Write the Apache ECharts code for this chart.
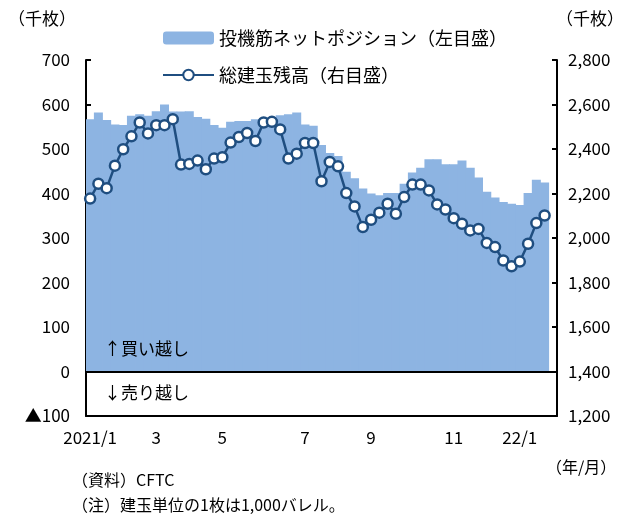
<!DOCTYPE html>
<html>
<head>
<meta charset="utf-8">
<script src="https://cdn.jsdelivr.net/npm/echarts@6/dist/echarts.min.js"></script>
<style>
  html, body { margin: 0; padding: 0; background: #fff; }
  #container { width: 625px; height: 520px; }
</style>
</head>
<body>
<div id="container"></div>
<script>
// weekly data, 2021/1 - 2022/2 (one empty slot at the end like the original)
var weeks = [];
for (var i = 0; i < 57; i++) weeks.push('w' + i);

// month tick labels: week index -> text
var tickLabels = { 0: '2021/1', 8: '3', 16: '5', 26: '7', 34: '9', 44: '11', 52: '22/1' };

// 投機筋ネットポジション (left axis, 千枚)
var netPosition = [
  567, 582, 565, 555, 554, 575, 578, 575, 585, 600,
  584, 584, 585, 572, 568, 554, 548, 561, 563, 563,
  567, 569, 571, 576, 578, 582, 555, 552, 509, 491,
  484, 449, 434, 411, 400, 396, 401, 401, 422, 447,
  458, 477, 477, 466, 466, 474, 458, 436, 404, 391,
  381, 377, 374, 401, 431, 425, null
];

// 総建玉残高 (right axis, 千枚)
var openInterest = [
  2177, 2244, 2224, 2325, 2399, 2457, 2519, 2470, 2507, 2507,
  2534, 2330, 2333, 2348, 2309, 2357, 2363, 2429, 2454, 2472,
  2436, 2519, 2522, 2488, 2357, 2379, 2427, 2427, 2255, 2342,
  2322, 2202, 2142, 2049, 2082, 2114, 2154, 2109, 2184, 2240,
  2240, 2214, 2151, 2128, 2089, 2064, 2034, 2041, 1978, 1959,
  1899, 1873, 1894, 1974, 2067, 2101, null
];

var FONT = '"Noto Sans CJK JP", "Noto Sans", sans-serif';
var BAR_COLOR = '#8db4e2';
var LINE_COLOR = '#1f4e80';

var dom = document.getElementById('container');
var myChart = echarts.init(dom, null, { renderer: 'canvas' });

var option = {
  animation: false,
  textStyle: { fontFamily: FONT, color: '#000' },
  grid: { left: 86, right: 68, top: 60, bottom: 104 },
  legend: {
    orient: 'vertical',
    left: 157,
    top: 24,
    itemWidth: 51,
    itemHeight: 13,
    itemGap: 19,
    textStyle: { fontFamily: FONT, fontSize: 18, color: '#000' },
    data: ['投機筋ネットポジション（左目盛）', '総建玉残高（右目盛）']
  },
  xAxis: {
    type: 'category',
    data: weeks,
    boundaryGap: true,
    axisLine: { onZero: false, lineStyle: { color: '#000', width: 2 } },
    axisTick: { show: false },
    axisLabel: {
      interval: 0,
      margin: 13,
      fontSize: 17,
      color: '#000',
      fontFamily: FONT,
      formatter: function (v, idx) { return tickLabels[idx] || ''; }
    },
    splitLine: { show: false }
  },
  yAxis: [
    {
      type: 'value',
      min: -100, max: 700, interval: 100,
      axisLine: { show: true, lineStyle: { color: '#000', width: 2 } },
      axisTick: { show: true, inside: true, length: 5, lineStyle: { color: '#000', width: 2 } },
      axisLabel: {
        margin: 16, fontSize: 17, color: '#000', fontFamily: FONT,
        formatter: function (v) { return v < 0 ? '▲' + (-v) : String(v); }
      },
      splitLine: { show: false }
    },
    {
      type: 'value',
      min: 1200, max: 2800, interval: 200,
      position: 'right',
      axisLine: { show: true, lineStyle: { color: '#000', width: 2 } },
      axisTick: { show: true, inside: true, length: 5, lineStyle: { color: '#000', width: 2 } },
      axisLabel: {
        margin: 11, fontSize: 17, color: '#000', fontFamily: FONT,
        formatter: function (v) { return v.toLocaleString('en-US'); }
      },
      splitLine: { show: false }
    }
  ],
  series: [
    {
      name: '投機筋ネットポジション（左目盛）',
      type: 'bar',
      yAxisIndex: 0,
      barWidth: 9,
      barGap: '-100%',
      itemStyle: { color: BAR_COLOR },
      data: netPosition,
      markLine: {
        silent: true,
        symbol: 'none',
        label: { show: false },
        lineStyle: { color: '#000', width: 2, type: 'solid' },
        data: [{ yAxis: 0 }]
      }
    },
    {
      name: '総建玉残高（右目盛）',
      type: 'line',
      yAxisIndex: 1,
      symbol: 'circle',
      symbolSize: 10,
      showAllSymbol: true,
      lineStyle: { color: LINE_COLOR, width: 2.5 },
      itemStyle: { color: '#fff', borderColor: LINE_COLOR, borderWidth: 2.5 },
      data: openInterest,
      z: 5
    }
  ],
  graphic: [
    { type: 'text', z: 100, left: 8, top: 10, style: { text: '（千枚）', font: '17px ' + FONT, fill: '#000' } },
    { type: 'text', z: 100, left: 556, top: 10, style: { text: '（千枚）', font: '17px ' + FONT, fill: '#000' } },
    { type: 'text', z: 100, left: 104, top: 340, style: { text: '↑買い越し', font: '17px ' + FONT, fill: '#000' } },
    { type: 'text', z: 100, left: 104, top: 384, style: { text: '↓売り越し', font: '17px ' + FONT, fill: '#000' } },
    { type: 'text', z: 100, left: 546, top: 459, style: { text: '（年/月）', font: '16px ' + FONT, fill: '#000' } },
    { type: 'text', z: 100, left: 72, top: 472, style: { text: '（資料）CFTC', font: '16px ' + FONT, fill: '#000' } },
    { type: 'text', z: 100, left: 72, top: 497, style: { text: '（注）建玉単位の1枚は1,000バレル。', font: '16px ' + FONT, fill: '#000' } }
  ]
};

myChart.setOption(option);
window.addEventListener('resize', myChart.resize);
</script>
</body>
</html>
